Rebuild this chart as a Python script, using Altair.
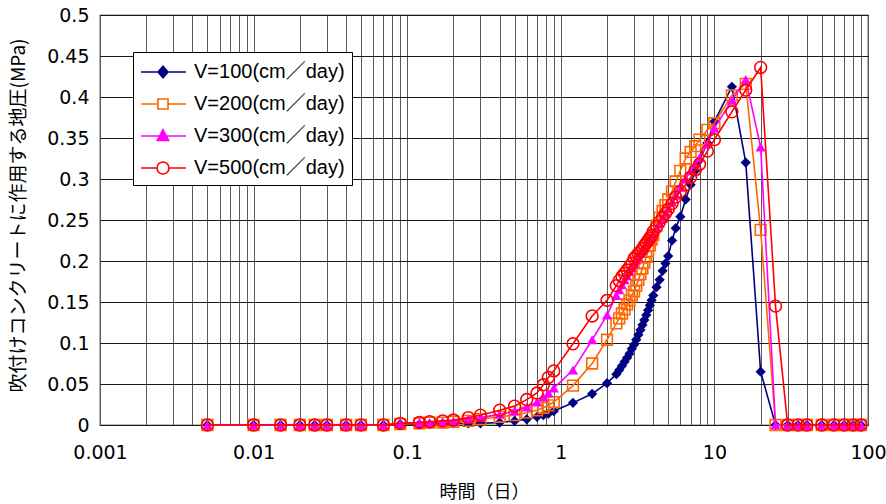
import altair as alt
import pandas as pd

# ---------------- data ----------------
times = [0.005, 0.01, 0.015, 0.02, 0.025, 0.03, 0.04, 0.05, 0.07, 0.09,
         0.12, 0.14, 0.17, 0.2, 0.25, 0.3, 0.4, 0.5, 0.6, 0.7, 0.77, 0.83, 0.9,
         1.2, 1.6, 2.0,
         2.3, 2.4, 2.5, 2.6, 2.7, 2.8, 2.9, 3.0, 3.1, 3.2, 3.3, 3.4, 3.5, 3.6,
         3.7, 3.8, 3.9, 4.0,
         4.2, 4.4, 4.6, 4.8, 5.0,
         5.3, 5.6, 6.0, 6.5, 7.0, 7.5, 8.0, 9.0, 10,
         13, 16, 20, 25, 30, 35, 40, 50, 60, 70, 80, 90]

v100 = [0, 0, 0, 0, 0, 0, 0, 0, 0, 0.001,
        0.001, 0.001, 0.002, 0.002, 0.002, 0.002, 0.003, 0.005, 0.007, 0.010, 0.012, 0.014, 0.017,
        0.027, 0.038, 0.051,
        0.062, 0.067, 0.072, 0.077, 0.082, 0.087, 0.093, 0.098, 0.104, 0.110, 0.116, 0.122, 0.128, 0.134,
        0.140, 0.146, 0.152, 0.158,
        0.168, 0.177, 0.188, 0.197, 0.206,
        0.225, 0.240, 0.254, 0.275, 0.293, 0.310, 0.323, 0.344, 0.370,
        0.4125, 0.320, 0.065, 0, 0, 0, 0, 0, 0, 0, 0, 0]

v200 = [0, 0, 0, 0, 0, 0, 0, 0, 0, 0.001,
        0.002, 0.003, 0.003, 0.004, 0.005, 0.007, 0.010, 0.012, 0.015, 0.018, 0.021, 0.024, 0.028,
        0.048, 0.075, 0.104,
        0.124, 0.130, 0.136, 0.141, 0.147, 0.152, 0.158, 0.163, 0.170, 0.177, 0.184, 0.191, 0.198, 0.205,
        0.212, 0.219, 0.226, 0.232,
        0.243, 0.253, 0.261, 0.268, 0.275,
        0.285, 0.297, 0.310, 0.325, 0.333, 0.340, 0.348, 0.360, 0.368,
        0.402, 0.416, 0.238, 0, 0, 0, 0, 0, 0, 0, 0, 0]

v300 = [0, 0, 0, 0, 0, 0, 0, 0, 0, 0.002,
        0.003, 0.003, 0.004, 0.005, 0.007, 0.009, 0.013, 0.017, 0.022, 0.028, 0.034, 0.039, 0.045,
        0.067, 0.104, 0.134,
        0.158, 0.165, 0.171, 0.177, 0.182, 0.187, 0.192, 0.197, 0.201, 0.205, 0.209, 0.213, 0.217, 0.221,
        0.224, 0.227, 0.230, 0.233,
        0.240, 0.246, 0.252, 0.258, 0.264,
        0.272, 0.280, 0.290, 0.300, 0.310, 0.318, 0.326, 0.343, 0.362,
        0.396, 0.4215, 0.339, 0, 0, 0, 0, 0, 0, 0, 0, 0]

v500 = [0, 0, 0, 0, 0, 0, 0, 0, 0, 0.002,
        0.003, 0.004, 0.005, 0.006, 0.009, 0.012, 0.018, 0.023, 0.031, 0.039, 0.049, 0.058, 0.066,
        0.099, 0.133, 0.152,
        0.170, 0.176, 0.181, 0.185, 0.189, 0.193, 0.197, 0.203, 0.206, 0.209, 0.212, 0.215, 0.219, 0.222,
        0.225, 0.228, 0.231, 0.236,
        0.242, 0.248, 0.253, 0.258, 0.263,
        0.270, 0.278, 0.285, 0.293, 0.302, 0.311, 0.318, 0.334, 0.348,
        0.382, 0.4085, 0.436, 0.145, 0, 0, 0, 0, 0, 0, 0, 0]

names = ["V=100(cm／day)", "V=200(cm／day)", "V=300(cm／day)", "V=500(cm／day)"]
colors = ["#000080", "#FF6600", "#FF00FF", "#FF0000"]
series_values = [v100, v200, v300, v500]

x_ticks = [0.001, 0.002, 0.003, 0.004, 0.005, 0.006, 0.007, 0.008, 0.009,
           0.01, 0.02, 0.03, 0.04, 0.05, 0.06, 0.07, 0.08, 0.09,
           0.1, 0.2, 0.3, 0.4, 0.5, 0.6, 0.7, 0.8, 0.9,
           1, 2, 3, 4, 5, 6, 7, 8, 9,
           10, 20, 30, 40, 50, 60, 70, 80, 90, 100]
y_ticks = [0, 0.05, 0.1, 0.15, 0.2, 0.25, 0.3, 0.35, 0.4, 0.45, 0.5]

# ---------------- styling ----------------
TICK_FONT = "DejaVu Sans"
LEG_FONT = "Liberation Sans, Noto Sans CJK JP"
JP_FONT = "Noto Sans CJK JP"

frames = []
for n, vals in zip(names, series_values):
    frames.append(pd.DataFrame({"time": times, "value": vals, "series": n}))
df_all = pd.concat(frames, ignore_index=True)

x_scale = alt.Scale(type="log", domain=[0.001, 100], nice=False)
y_scale = alt.Scale(domain=[0, 0.5], nice=False, zero=True)

x_axis = alt.Axis(
    values=x_ticks, format="~g",
    labelExpr="indexof(['0.001','0.01','0.1','1','10','100'], datum.label) >= 0 ? datum.label : ''",
    title="時間（日）", titleFont=JP_FONT, titleFontSize=18, titleFontWeight="normal",
    titleColor="black", titleX=384, titleY=67, titleBaseline="middle",
    labelFont=TICK_FONT, labelFontSize=19, labelColor="black", labelPadding=18,
    ticks=False, domain=False, grid=True, gridColor="#5a5a5a", gridWidth=1,
    labelFlush=False, labelOverlap=False,
)
y_axis = alt.Axis(
    values=y_ticks, format="~g",
    title="吹付けコンクリートに作用する地圧(MPa)", titleFont=JP_FONT, titleFontSize=19,
    titleFontWeight="normal", titleColor="black", titleX=-82, titleY=200,
    titleBaseline="middle", titleAngle=-90,
    labelFont=TICK_FONT, labelFontSize=19, labelColor="black", labelPadding=11,
    ticks=False, domain=False, grid=True, gridColor="#1a1a1a", gridWidth=1,
    labelFlush=False, labelOverlap=False,
)

X = alt.X("time:Q", scale=x_scale, axis=x_axis)
Y = alt.Y("value:Q", scale=y_scale, axis=y_axis)

marker_shapes = ["diamond", "square", "triangle-up", "circle"]
marker_filled = [True, False, True, False]
marker_sizes = [105, 115, 105, 140]

layers = []
for n, c, shp, fl, sz in zip(names, colors, marker_shapes, marker_filled, marker_sizes):
    sub = df_all[df_all["series"] == n]
    base = alt.Chart(sub)
    line = base.mark_line(color=c, strokeWidth=1.6, clip=False).encode(x=X, y=Y)
    if fl:
        pts = base.mark_point(shape=shp, filled=True, color=c, size=sz, opacity=1,
                              clip=False).encode(x=X, y=Y)
    else:
        pts = base.mark_point(shape=shp, filled=False, color=c, size=sz, opacity=1,
                              strokeWidth=1.6, clip=False).encode(x=X, y=Y)
    layers += [line, pts]

# legend: line segment + marker drawn as custom symbol paths
# unit = sqrt(symbolSize)/2 = 12 px ; line from -12px to +33px, marker centred at +10px
legend_paths = [
    "M-1,0H2.75M0.833,-0.48L1.25,0L0.833,0.48L0.417,0Z",
    "M-1,0H0.413M1.253,0H2.75M0.413,-0.42H1.253V0.42H0.413Z",
    "M-1,0H2.75M0.833,-0.52L1.31,0.38H0.356Z",
    "M-1,0H0.333M1.333,0H2.75M1.333,0A0.5,0.5 0 1,1 0.333,0A0.5,0.5 0 1,1 1.333,0Z",
]
legend_fills = ["#000080", "#FFFFFF", "#FF00FF", "#FFFFFF"]

leg = alt.Legend(
    title=None, orient="none", legendX=33, legendY=37,
    symbolSize=576, symbolStrokeWidth=1.6, symbolOpacity=1,
    labelFont=LEG_FONT, labelFontSize=20, labelColor="black", labelOffset=28,
    padding=7, rowPadding=9, strokeColor="black", fillColor="white",
    labelLimit=400,
)
legend_layer = alt.Chart(df_all).mark_point(opacity=0, size=1).encode(
    x=X, y=Y,
    shape=alt.Shape("series:N", scale=alt.Scale(domain=names, range=legend_paths), legend=leg),
    stroke=alt.Stroke("series:N", scale=alt.Scale(domain=names, range=colors), legend=leg),
    fill=alt.Fill("series:N", scale=alt.Scale(domain=names, range=legend_fills), legend=leg),
)

chart = alt.layer(*layers, legend_layer).properties(
    width=768, height=410,
    autosize=alt.AutoSizeParams(type="none"),
    padding={"left": 100, "top": 15, "right": 18, "bottom": 79},
    background="white",
).configure_view(stroke="black", strokeWidth=1.2)

chart.save("out.html", embed_options={"renderer": "svg", "actions": False})
